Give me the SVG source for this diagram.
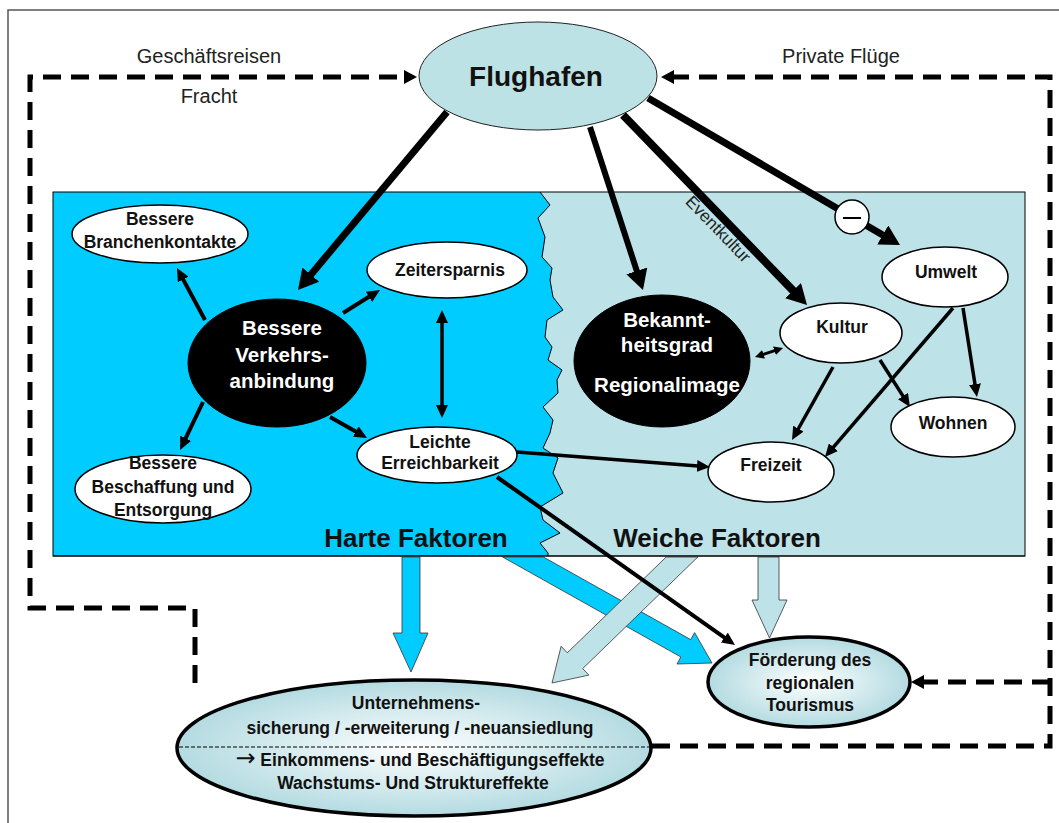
<svg xmlns="http://www.w3.org/2000/svg" width="1059" height="823" viewBox="0 0 1059 823">
<style>
text{font-family:"Liberation Sans",Arial,sans-serif;text-anchor:middle;}
.lbl{font-size:20px;fill:#222;}
.n{font-size:17.5px;font-weight:bold;fill:#111;}
.nw{font-size:20.5px;font-weight:bold;fill:#fff;}
.big{font-size:26px;font-weight:bold;fill:#111;}
.wn{fill:#fff;stroke:#000;stroke-width:1.5;}
.bn{fill:#000;stroke:#000;stroke-width:1;}
.c{stroke:#000;fill:none;}
.dash{stroke:#000;stroke-width:5;fill:none;stroke-dasharray:18 10;}
</style>
<defs>
<marker id="ab" markerUnits="userSpaceOnUse" viewBox="0 0 20 22" markerWidth="20" markerHeight="22" refX="1" refY="11" orient="auto"><path d="M0,0 L20,11 L0,22 z" fill="#000"/></marker>
<marker id="as" markerUnits="userSpaceOnUse" viewBox="0 0 13 12" markerWidth="13" markerHeight="12" refX="1" refY="6" orient="auto-start-reverse"><path d="M0,0 L13,6 L0,12 z" fill="#000"/></marker>
<marker id="ax" markerUnits="userSpaceOnUse" viewBox="0 0 9 9" markerWidth="9" markerHeight="9" refX="1" refY="4.5" orient="auto-start-reverse"><path d="M0,0 L9,4.5 L0,9 z" fill="#000"/></marker>
<marker id="ad" markerUnits="userSpaceOnUse" viewBox="0 0 13 14" markerWidth="13" markerHeight="14" refX="1" refY="7" orient="auto"><path d="M0,0 L13,7 L0,14 z" fill="#000"/></marker>
<radialGradient id="g" cx="50%" cy="50%" r="50%"><stop offset="0" stop-color="#ffffff"/><stop offset="1" stop-color="#b3dbe1"/></radialGradient>
</defs>
<rect width="1059" height="823" fill="#fff"/>
<path d="M8,823 V10 H1059" fill="none" stroke="#555" stroke-width="1.5"/>
<g id="regions">
<rect x="53" y="192" width="972" height="364" fill="#bde2e7"/>
<polygon fill="#00ccff" points="53,192 540,192 550,205 538,218 545,237 542,257 552,268 550,280 553,297 563,310 547,320 545,337 552,347 548,360 562,370 557,380 558,393 543,407 553,420 550,433 543,448 558,458 553,473 563,493 540,507 543,520 560,533 540,543 548,553 548,556 53,556"/>
<polyline fill="none" stroke="#000" stroke-width="1" points="540,192 550,205 538,218 545,237 542,257 552,268 550,280 553,297 563,310 547,320 545,337 552,347 548,360 562,370 557,380 558,393 543,407 553,420 550,433 543,448 558,458 553,473 563,493 540,507 543,520 560,533 540,543 548,553 548,556"/>
<rect x="53" y="192" width="972" height="364" fill="none" stroke="#000" stroke-width="1"/>
<text class="big" x="416" y="547">Harte Faktoren</text>
<text class="big" x="717" y="547">Weiche Faktoren</text>
</g>
<g id="connectors">
<polygon fill="#00ccff" stroke="#333" stroke-width="0.8" points="402,557 402,633 393,633 411,672 428,633 420,633 420,557"/>
<polygon fill="#00ccff" stroke="#333" stroke-width="0.8" points="502.6,557 680.9,657 677,664 712,663 694.6,632.6 690.7,639.6 543.4,557"/>
<polygon fill="#bde2e7" stroke="#333" stroke-width="0.8" points="666.2,557 567.3,652.8 561.1,646.3 552,683 588.9,675.1 582.7,668.6 697.8,557"/>
<polygon fill="#bde2e7" stroke="#333" stroke-width="0.8" points="758,557 758,600 752,600 769.5,638 787,600 779,600 779,557"/>
<line x1="53" y1="556" x2="1025" y2="556" stroke="#000" stroke-width="1"/>
<path class="dash" d="M195,683 V608 H30 V77 H405" marker-end="url(#ad)"/>
<path class="dash" d="M652,746 H1050 V77 H673" marker-end="url(#ad)"/>
<path class="dash" d="M1050,682 H923" marker-end="url(#ad)"/>
<line class="c" stroke-width="7" x1="447" y1="112" x2="310.2" y2="275.4" marker-end="url(#ab)"/>
<line class="c" stroke-width="6" x1="590" y1="127" x2="637.1" y2="271.9" marker-end="url(#ab)"/>
<line class="c" stroke-width="8" x1="623" y1="115" x2="793.8" y2="291.4" marker-end="url(#ab)"/>
<line class="c" stroke-width="7" x1="648" y1="98" x2="883.6" y2="235.4" marker-end="url(#ab)"/>
<text x="0" y="0" font-size="17" fill="#222" transform="translate(714,233) rotate(45.9)">Eventkultur</text>
<line class="c" stroke-width="4" x1="205" y1="320" x2="182.7" y2="278.6" marker-end="url(#as)"/>
<line class="c" stroke-width="4" x1="343" y1="313" x2="369.8" y2="296.3" marker-end="url(#as)"/>
<line class="c" stroke-width="4" x1="203" y1="402" x2="185.2" y2="439.2" marker-end="url(#as)"/>
<line class="c" stroke-width="4" x1="330" y1="417" x2="356.6" y2="432.1" marker-end="url(#as)"/>
<line class="c" stroke-width="3.5" x1="442" y1="322" x2="442" y2="406" marker-start="url(#as)" marker-end="url(#as)"/>
<line class="c" stroke-width="3.5" x1="517" y1="452" x2="698" y2="466.1" marker-end="url(#as)"/>
<line class="c" stroke-width="4" x1="497" y1="477" x2="725.2" y2="638.1" marker-end="url(#as)"/>
<line class="c" stroke-width="3" x1="775.4" y1="350.4" x2="762.6" y2="354.6" marker-start="url(#ax)" marker-end="url(#ax)"/>
<line class="c" stroke-width="3.5" x1="833" y1="367" x2="797.9" y2="429.5" marker-end="url(#as)"/>
<line class="c" stroke-width="3.5" x1="880" y1="360" x2="903.5" y2="396.9" marker-end="url(#as)"/>
<line class="c" stroke-width="3.5" x1="953" y1="308" x2="832.8" y2="447.9" marker-end="url(#as)"/>
<line class="c" stroke-width="3.5" x1="963" y1="308" x2="975.1" y2="385.1" marker-end="url(#as)"/>
<circle cx="852" cy="217" r="17" fill="#fff" stroke="#000" stroke-width="1.5"/>
<line x1="843" y1="218" x2="861" y2="218" stroke="#000" stroke-width="2"/>
</g>
<g id="flughafen">
<ellipse cx="538" cy="76" rx="119" ry="54" fill="#bde2e6" stroke="#222" stroke-width="1"/>
<text x="536" y="86" font-size="28" font-weight="bold" fill="#111">Flughafen</text>
</g>
<text class="lbl" x="209" y="63">Geschäftsreisen</text>
<text class="lbl" x="209" y="103">Fracht</text>
<text class="lbl" x="841" y="63">Private Flüge</text>
<g id="branchenkontakte">
<ellipse class="wn" cx="160" cy="234" rx="88" ry="29"/>
<text class="n" x="160" y="225">Bessere</text>
<text class="n" x="160" y="248">Branchenkontakte</text>
</g>
<g id="verkehrsanbindung">
<ellipse class="bn" cx="277" cy="363" rx="89" ry="64"/>
<text class="nw" x="282" y="335">Bessere</text>
<text class="nw" x="282" y="362">Verkehrs-</text>
<text class="nw" x="282" y="388">anbindung</text>
</g>
<g id="zeitersparnis">
<ellipse class="wn" cx="447" cy="270" rx="80" ry="28"/>
<text class="n" x="450" y="276">Zeitersparnis</text>
</g>
<g id="erreichbarkeit">
<ellipse class="wn" cx="437" cy="455" rx="80" ry="28"/>
<text class="n" x="440" y="448">Leichte</text>
<text class="n" x="440" y="469">Erreichbarkeit</text>
</g>
<g id="beschaffung">
<ellipse class="wn" cx="163" cy="489" rx="88" ry="34"/>
<text class="n" x="163" y="469">Bessere</text>
<text class="n" x="163" y="493">Beschaffung und</text>
<text class="n" x="163" y="516">Entsorgung</text>
</g>
<g id="bekanntheitsgrad">
<ellipse class="bn" cx="662" cy="361" rx="88" ry="66"/>
<text class="nw" x="667" y="327">Bekannt-</text>
<text class="nw" x="667" y="352">heitsgrad</text>
<text class="nw" x="667" y="392">Regionalimage</text>
</g>
<g id="kultur">
<ellipse class="wn" cx="841" cy="333" rx="61" ry="30"/>
<text class="n" x="842" y="333">Kultur</text>
</g>
<g id="umwelt">
<ellipse class="wn" cx="945" cy="277" rx="63" ry="30"/>
<text class="n" x="946" y="278">Umwelt</text>
</g>
<g id="wohnen">
<ellipse class="wn" cx="953" cy="427" rx="62" ry="30"/>
<text class="n" x="953" y="429">Wohnen</text>
</g>
<g id="freizeit">
<ellipse class="wn" cx="771" cy="472" rx="63" ry="30"/>
<text class="n" x="771" y="471">Freizeit</text>
</g>
<g id="unternehmen">
<ellipse cx="414" cy="748" rx="237" ry="68" fill="url(#g)" stroke="#000" stroke-width="3.5"/>
<line x1="179" y1="747" x2="650" y2="747" stroke="#000" stroke-width="1" stroke-dasharray="4 2"/>
<text class="n" x="416" y="709" font-size="18">Unternehmens-</text>
<text class="n" x="420" y="734" font-size="18">sicherung / -erweiterung / -neuansiedlung</text>
<text class="n" x="420" y="766" font-size="18"><tspan font-family="'DejaVu Sans',sans-serif" font-size="24" font-weight="normal">→</tspan> Einkommens- und Beschäftigungseffekte</text>
<text class="n" x="413" y="789" font-size="18">Wachstums- Und Struktureffekte</text>
</g>
<g id="foerderung">
<ellipse cx="809" cy="682" rx="101" ry="45" fill="url(#g)" stroke="#000" stroke-width="3.5"/>
<text class="n" x="810" y="666">Förderung des</text>
<text class="n" x="810" y="689">regionalen</text>
<text class="n" x="810" y="711">Tourismus</text>
</g>
</svg>
